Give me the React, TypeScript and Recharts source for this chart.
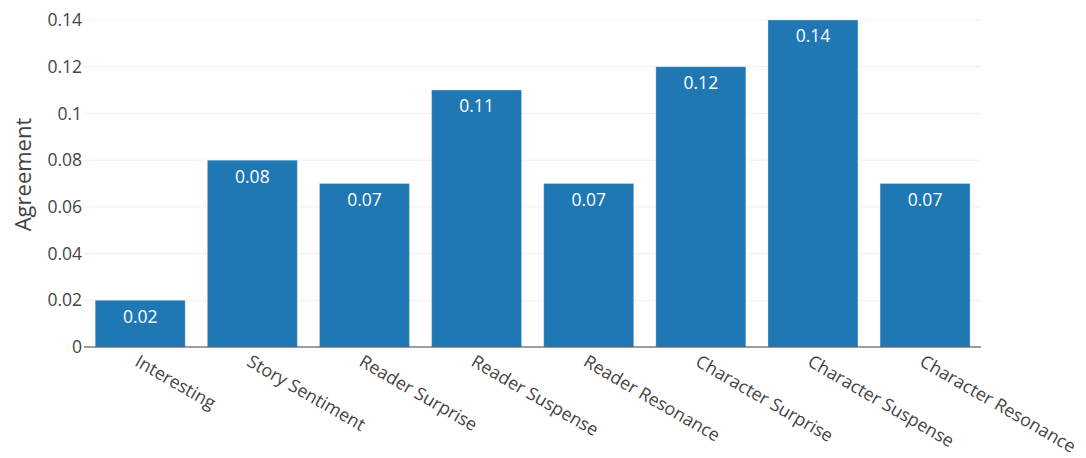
import { Bar, BarChart, CartesianGrid, LabelList, XAxis, YAxis } from 'recharts'

const categories = [
  'Interesting',
  'Story Sentiment',
  'Reader Surprise',
  'Reader Suspense',
  'Reader Resonance',
  'Character Surprise',
  'Character Suspense',
  'Character Resonance',
]
const agreement = [0.02, 0.08, 0.07, 0.11, 0.07, 0.12, 0.14, 0.07]
const yTicks = [0, 0.02, 0.04, 0.06, 0.08, 0.1, 0.12, 0.14]

const data = categories.map((name, i) => ({ name, agreement: agreement[i] }))

const FONT = '"Open Sans", sans-serif'
const TEXT = '#444'
const BLUE = '#1f77b4'

function RotatedTick(props: any) {
  const { x, y, payload } = props
  const ax = x
  const ay = y - 1
  return (
    <text
      x={ax}
      y={ay}
      transform={`rotate(30, ${ax}, ${ay})`}
      textAnchor="start"
      dy="0.72em"
      fill={TEXT}
      fontFamily={FONT}
      fontSize={17.8}
    >
      {payload.value}
    </text>
  )
}

function AxisTitle(props: any) {
  const { viewBox } = props
  const cy = viewBox.y + viewBox.height / 2 - 9
  return (
    <text
      x={22}
      y={cy}
      transform={`rotate(-90, 22, ${cy})`}
      textAnchor="middle"
      dominantBaseline="central"
      fill={TEXT}
      fontFamily={FONT}
      fontSize={22}
    >
      Agreement
    </text>
  )
}

export default function App() {
  return (
    <div style={{ position: 'absolute', left: 0, top: 0, background: '#fff' }}>
      <BarChart
        width={1086}
        height={458}
        data={data}
        margin={{ top: 20, right: 105, bottom: 0, left: 0 }}
        barCategoryGap="10%"
      >
        <CartesianGrid vertical={false} stroke="#eee" />
        <XAxis
          dataKey="name"
          height={111}
          tick={<RotatedTick />}
          tickLine={false}
          axisLine={{ stroke: '#444', strokeWidth: 1 }}
          interval={0}
        />
        <YAxis
          width={84}
          domain={[0, 0.14]}
          ticks={yTicks}
          tickFormatter={(v: number) => String(v)}
          tick={{ fill: TEXT, fontFamily: FONT, fontSize: 17.5 }}
          tickLine={false}
          tickSize={0}
          tickMargin={2}
          axisLine={false}
          label={<AxisTitle />}
        />
        <Bar
          dataKey="agreement"
          fill={BLUE}
          stroke="rgba(255,255,255,0.6)"
          strokeWidth={0.5}
          isAnimationActive={false}
        >
          <LabelList
            dataKey="agreement"
            position="insideTop"
            offset={10}
            fill="#fff"
            fontFamily={FONT}
            fontSize={17.5}
          />
        </Bar>
      </BarChart>
    </div>
  )
}
